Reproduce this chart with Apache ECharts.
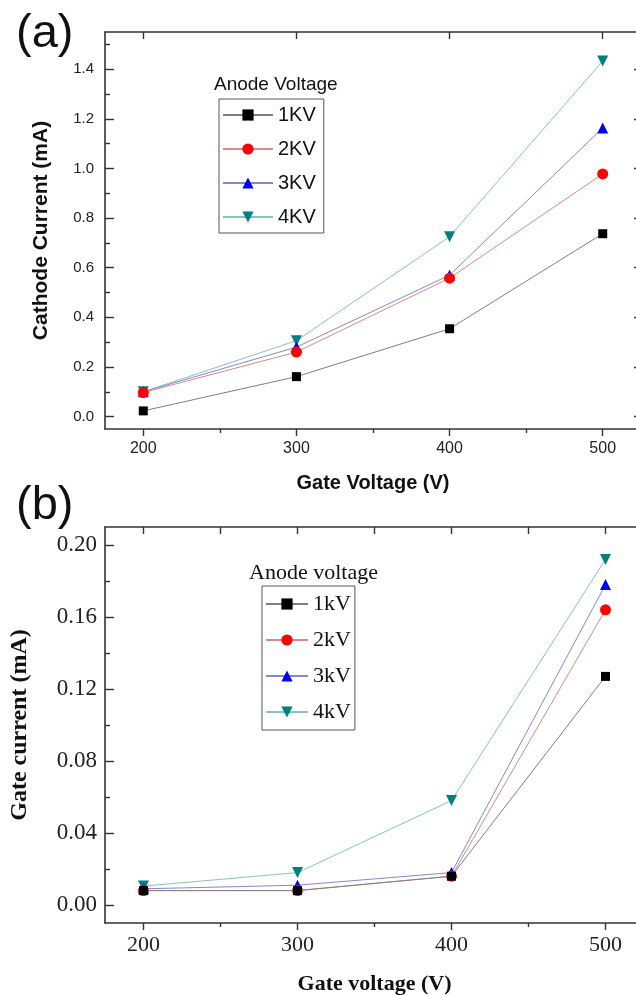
<!DOCTYPE html>
<html>
<head>
<meta charset="utf-8">
<script src="https://cdn.jsdelivr.net/npm/echarts@6/dist/echarts.min.js"></script>
<style>
  html, body { margin: 0; padding: 0; background: #fff; overflow: hidden; }
  #chart { width: 636px; height: 995px; }
</style>
</head>
<body>
<div id="chart"></div>
<script>
// gate voltage (V), shared by both panels
const gateVoltage = [200, 300, 400, 500];
const xMajorTicks = [200, 300, 400, 500];
const xMinorTicks = [250, 350, 450];

// (a) cathode current (mA)
const cathodeNames = ['1KV', '2KV', '3KV', '4KV'];
const cathode1KV = [0.023, 0.161, 0.354, 0.737];
const cathode2KV = [0.097, 0.260, 0.558, 0.978];
const cathode3KV = [0.100, 0.280, 0.570, 1.163];
const cathode4KV = [0.100, 0.306, 0.725, 1.433];
const cathodeMajorTicks = [0, 0.2, 0.4, 0.6, 0.8, 1.0, 1.2, 1.4];
const cathodeMinorTicks = [0.1, 0.3, 0.5, 0.7, 0.9, 1.1, 1.3, 1.5];

// (b) gate current (mA)
const gateNames = ['1kV', '2kV', '3kV', '4kV'];
const gate1kV = [0.008, 0.008, 0.016, 0.127];
const gate2kV = [0.008, 0.008, 0.016, 0.164];
const gate3kV = [0.009, 0.011, 0.018, 0.178];
const gate4kV = [0.0105, 0.018, 0.058, 0.192];
const gateMajorTicks = [0, 0.04, 0.08, 0.12, 0.16, 0.20];
const gateMinorTicks = [0.02, 0.06, 0.10, 0.14, 0.18];

const frame = '#333';
const sans = 'Liberation Sans';
const serif = 'Liberation Serif';

const markers = [
  { symbol: 'rect', size: 9, rotate: 0, color: '#000', line: '#808080' },
  { symbol: 'circle', size: 11, rotate: 0, color: '#ff0000', line: '#d98a8a' },
  { symbol: 'triangle', size: 11, rotate: 0, color: '#0000ff', line: '#8686d4' },
  { symbol: 'triangle', size: 11, rotate: 180, color: '#008080', line: '#86c4c0' }
];

function makeSeries(names, values, axisIdx) {
  return names.map((name, i) => ({
    name: name,
    type: 'line',
    xAxisIndex: axisIdx,
    yAxisIndex: axisIdx,
    data: gateVoltage.map((x, j) => [x, values[i][j]]),
    symbol: markers[i].symbol,
    symbolSize: markers[i].size,
    symbolRotate: markers[i].rotate,
    itemStyle: { color: markers[i].color },
    lineStyle: { color: markers[i].line, width: 1 },
    z: 10 - i
  }));
}

function xAxes(grid, labelFont, labelSize, labelMargin, name, nameSize, nameGap, topTicks) {
  return [
    {
      type: 'value', gridIndex: grid, position: 'bottom', min: 175, max: 525,
      axisLine: { onZero: false, lineStyle: { color: frame, width: 1.6 } },
      axisTick: { inside: false, length: 7, customValues: xMajorTicks, lineStyle: { color: frame, width: 1.4 } },
      axisLabel: { customValues: xMajorTicks, margin: labelMargin, color: '#222', fontFamily: labelFont, fontSize: labelSize },
      splitLine: { show: false },
      name: name, nameLocation: 'middle', nameGap: nameGap,
      nameTextStyle: { fontFamily: labelFont, fontWeight: 'bold', fontSize: nameSize, color: '#111' }
    },
    {
      type: 'value', gridIndex: grid, position: 'bottom', min: 175, max: 525,
      axisLine: { show: false, onZero: false },
      axisTick: { inside: false, length: 4, customValues: xMinorTicks, lineStyle: { color: frame, width: 1.4 } },
      axisLabel: { show: false },
      splitLine: { show: false }
    },
    {
      type: 'value', gridIndex: grid, position: 'top', min: 175, max: 525,
      axisLine: { onZero: false, lineStyle: { color: frame, width: 1.6 } },
      axisTick: { inside: true, length: 7, customValues: topTicks, lineStyle: { color: frame, width: 1.4 } },
      axisLabel: { show: false },
      splitLine: { show: false }
    }
  ];
}

function yAxes(grid, min, max, major, minor, digits, labelFont, labelSize, labelMargin, name, nameSize, nameGap) {
  return [
    {
      type: 'value', gridIndex: grid, position: 'left', min: min, max: max,
      axisLine: { onZero: false, lineStyle: { color: frame, width: 1.6 } },
      axisTick: { inside: true, length: 9, customValues: major, lineStyle: { color: frame, width: 1.4 } },
      axisLabel: {
        customValues: major, margin: labelMargin, color: '#222',
        fontFamily: labelFont, fontSize: labelSize,
        formatter: v => v.toFixed(digits)
      },
      splitLine: { show: false },
      name: name, nameLocation: 'middle', nameGap: nameGap,
      nameTextStyle: { fontFamily: labelFont, fontWeight: 'bold', fontSize: nameSize, color: '#111' }
    },
    {
      type: 'value', gridIndex: grid, position: 'left', min: min, max: max,
      axisLine: { show: false, onZero: false },
      axisTick: { inside: true, length: 5, customValues: minor, lineStyle: { color: frame, width: 1.4 } },
      axisLabel: { show: false },
      splitLine: { show: false }
    },
    {
      type: 'value', gridIndex: grid, position: 'right', min: min, max: max,
      axisLine: { onZero: false, lineStyle: { color: frame, width: 1.6 } },
      axisTick: { inside: true, length: 7, customValues: major, lineStyle: { color: frame, width: 1.4 } },
      axisLabel: { show: false },
      splitLine: { show: false }
    }
  ];
}

const chart = echarts.init(document.getElementById('chart'));

const option = {
  backgroundColor: '#fff',
  animation: false,
  title: [
    { text: '(a)', left: 11, top: 6, textStyle: { fontFamily: sans, fontWeight: 'normal', fontSize: 47, color: '#111' } },
    { text: '(b)', left: 11, top: 478, textStyle: { fontFamily: sans, fontWeight: 'normal', fontSize: 47, color: '#111' } },
    { text: 'Anode Voltage', left: 209, top: 70, textStyle: { fontFamily: sans, fontWeight: 'normal', fontSize: 19, color: '#111' } },
    { text: 'Anode voltage', left: 244, top: 557, textStyle: { fontFamily: serif, fontWeight: 'normal', fontSize: 22, color: '#111' } }
  ],
  grid: [
    { left: 105, top: 32, right: -5, height: 397, outerBoundsMode: 'none' },
    { left: 105, top: 527, right: -8, height: 396, outerBoundsMode: 'none' }
  ],
  legend: [
    {
      data: cathodeNames, orient: 'vertical', left: 219, top: 99,
      itemWidth: 50, itemHeight: 14, itemGap: 14, padding: [6, 8, 6, 3],
      borderColor: '#555', borderWidth: 1,
      textStyle: { fontFamily: sans, fontSize: 20, color: '#111' }
    },
    {
      data: gateNames, orient: 'vertical', left: 262, top: 586,
      itemWidth: 42, itemHeight: 14, itemGap: 14, padding: [7, 4, 7, 3],
      borderColor: '#555', borderWidth: 1,
      textStyle: { fontFamily: serif, fontSize: 22, color: '#111' }
    }
  ],
  xAxis: [
    ...xAxes(0, sans, 16, 12, 'Gate Voltage (V)', 20, 44, xMajorTicks),
    ...xAxes(1, serif, 22, 11, 'Gate voltage (V)', 22, 50, [200, 250, 300, 350, 400, 450, 500])
  ],
  yAxis: [
    ...yAxes(0, -0.05, 1.55, cathodeMajorTicks, cathodeMinorTicks, 1, sans, 15, 11, 'Cathode Current (mA)', 21, 53),
    ...yAxes(1, -0.01, 0.21, gateMajorTicks, gateMinorTicks, 2, serif, 23, 8, 'Gate current (mA)', 24, 73)
  ],
  series: [
    ...makeSeries(cathodeNames, [cathode1KV, cathode2KV, cathode3KV, cathode4KV], 0),
    ...makeSeries(gateNames, [gate1kV, gate2kV, gate3kV, gate4kV], 3)
  ]
};

chart.setOption(option);
</script>
</body>
</html>
